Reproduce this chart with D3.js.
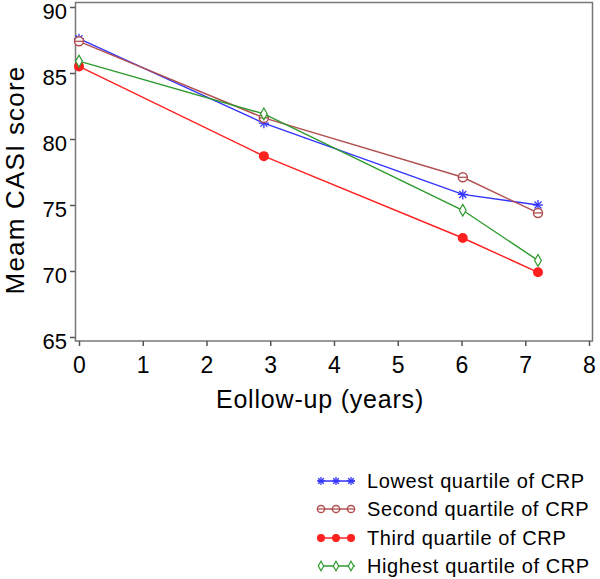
<!DOCTYPE html>
<meta charset="utf-8">
<style>
  body { margin: 0; background: #fff; }
  text { font-family: "Liberation Sans", Arial, sans-serif; fill: #000; }
</style>
<script src="https://d3js.org/d3.v7.min.js"></script>
<div id="my_dataviz"></div>
<script>

// data
var years = [0, 2.9, 6.02, 7.2];
var lowest  = [87.6, 81.2, 75.8, 75.0];
var second  = [87.4, 81.6, 77.1, 74.4];
var third   = [85.5, 78.7, 72.5, 69.9];
var highest = [85.9, 81.9, 74.6, 70.8];
var seriesNames = ["Lowest quartile of CRP", "Second quartile of CRP", "Third quartile of CRP", "Highest quartile of CRP"];
var xTicks = [0, 1, 2, 3, 4, 5, 6, 7, 8];
var yTicks = [65, 70, 75, 80, 85, 90];

var series = [
  {name: seriesNames[0], values: lowest,  color: "#3333ff", marker: "star"},
  {name: seriesNames[1], values: second,  color: "#b05050", marker: "circleBar"},
  {name: seriesNames[2], values: third,   color: "#ff2020", marker: "dot"},
  {name: seriesNames[3], values: highest, color: "#2e9a2e", marker: "diamond"}
];

var W = 600, H = 579;
var svg = d3.select("#my_dataviz").append("svg")
    .attr("width", W).attr("height", H);

// scales
var x = d3.scaleLinear().domain([0, 8]).range([79, 589]);
var y = d3.scaleLinear().domain([65, 90]).range([337, 7]);

// frame
svg.append("rect")
  .attr("x", 75.5).attr("y", 2.5)
  .attr("width", 517).attr("height", 338.5)
  .attr("fill", "none").attr("stroke", "#777").attr("stroke-width", 1.5);

// X axis
var xAxis = svg.append("g")
  .attr("transform", "translate(0,341)")
  .call(d3.axisBottom(x).tickValues(xTicks).tickSize(5).tickPadding(11).tickFormat(d3.format("d")));
xAxis.select(".domain").remove();
xAxis.selectAll("line").attr("stroke", "#555").attr("stroke-width", 1.5);
xAxis.selectAll("text").style("font-size", "23px").style("font-family", "Liberation Sans, Arial, sans-serif");

// Y axis
var yAxis = svg.append("g")
  .attr("transform", "translate(75,0)")
  .call(d3.axisLeft(y).tickValues(yTicks).tickSize(5).tickPadding(3).tickFormat(d3.format("d")));
yAxis.select(".domain").remove();
yAxis.selectAll("line").attr("stroke", "#555").attr("stroke-width", 1.5);
yAxis.selectAll("text")
  .attr("dy", "0.5em")
  .style("font-size", "22px").style("font-family", "Liberation Sans, Arial, sans-serif");

// axis titles
svg.append("text")
  .attr("x", 320).attr("y", 408)
  .attr("text-anchor", "middle")
  .style("font-size", "25px")
  .style("letter-spacing", "0.8px")
  .text("Eollow-up (years)");

svg.append("text")
  .attr("transform", "translate(24,180) rotate(-90)")
  .attr("text-anchor", "middle")
  .style("font-size", "26px")
  .style("letter-spacing", "1.2px")
  .text("Meam CASI score");

// marker drawing
function drawMarker(g, type, color, cx, cy, k) {
  k = k || 1;
  if (type === "star") {
    var r = 5 * k;
    [[-r, 0, r, 0], [0, -r, 0, r], [-r * 0.7, -r * 0.7, r * 0.7, r * 0.7], [-r * 0.7, r * 0.7, r * 0.7, -r * 0.7]].forEach(function (s) {
      g.append("line")
        .attr("x1", cx + s[0]).attr("y1", cy + s[1])
        .attr("x2", cx + s[2]).attr("y2", cy + s[3])
        .attr("stroke", color).attr("stroke-width", 1.3);
    });
  } else if (type === "circleBar") {
    g.append("circle").attr("cx", cx).attr("cy", cy).attr("r", 4.5 * k)
      .attr("fill", "#fff").attr("stroke", color).attr("stroke-width", 1.5);
    g.append("line").attr("x1", cx - 4.5 * k).attr("x2", cx + 4.5 * k).attr("y1", cy).attr("y2", cy)
      .attr("stroke", color).attr("stroke-width", 1.3);
  } else if (type === "dot") {
    g.append("circle").attr("cx", cx).attr("cy", cy).attr("r", 5 * k)
      .attr("fill", color);
  } else if (type === "diamond") {
    g.append("path")
      .attr("d", d3.symbol().type(d3.symbolDiamond).size(40 * k * k)())
      .attr("transform", "translate(" + cx + "," + cy + ")")
      .attr("fill", "#fff").attr("stroke", color).attr("stroke-width", 1.2);
  }
}

var line = d3.line()
  .x(function (d) { return x(d[0]); })
  .y(function (d) { return y(d[1]); });

series.forEach(function (s) {
  var pts = years.map(function (yr, i) { return [yr, s.values[i]]; });
  var g = svg.append("g");
  g.append("path")
    .datum(pts)
    .attr("d", line)
    .attr("fill", "none")
    .attr("stroke", s.color)
    .attr("stroke-width", 1.4);
  pts.forEach(function (p) { drawMarker(g, s.marker, s.color, x(p[0]), y(p[1])); });
});

// legend
var legY = [481, 509, 538, 566];
series.forEach(function (s, i) {
  var g = svg.append("g");
  g.append("line")
    .attr("x1", 318).attr("x2", 355)
    .attr("y1", legY[i]).attr("y2", legY[i])
    .attr("stroke", s.color).attr("stroke-width", 1.4);
  [321, 336, 351].forEach(function (lx) { drawMarker(g, s.marker, s.color, lx, legY[i], 0.8); });
  g.append("text")
    .attr("x", 367).attr("y", legY[i] + 7)
    .style("font-size", "20px")
    .style("letter-spacing", "0.6px")
    .text(s.name);
});

</script>
